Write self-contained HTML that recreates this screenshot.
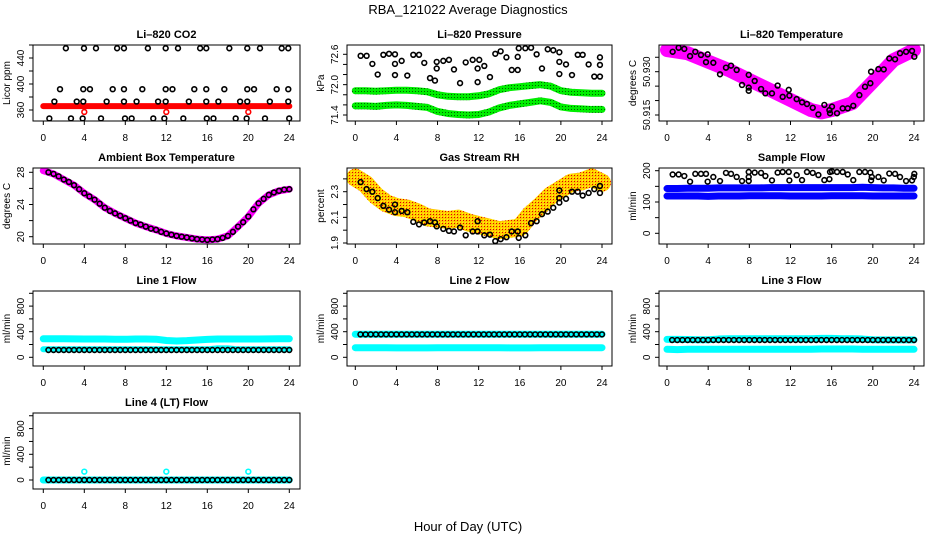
<!DOCTYPE html>
<html><head><meta charset="utf-8"><title>RBA_121022 Average Diagnostics</title>
<style>
html,body{margin:0;padding:0;background:#fff;}
svg{display:block;font-family:"Liberation Sans",Arial,sans-serif;}
</style></head>
<body>
<svg id="chart" width="936" height="540" viewBox="0 0 936 540" xmlns="http://www.w3.org/2000/svg">
<defs>
<pattern id="greenDots" width="3" height="3" patternUnits="userSpaceOnUse">
<rect width="3" height="3" fill="#00ee00"/><rect x="1" y="1" width="1" height="1" fill="#006000"/>
</pattern>
<pattern id="rhDots" width="3" height="3" patternUnits="userSpaceOnUse">
<rect width="3" height="3" fill="#ffc800"/><rect x="1" y="1" width="1" height="1" fill="#e00000"/><rect x="0" y="0" width="1" height="1" fill="#ffff00"/>
</pattern>
</defs>
<text x="468" y="14" text-anchor="middle" font-size="13">RBA_121022  Average Diagnostics</text>
<text x="468" y="531" text-anchor="middle" font-size="13">Hour of Day (UTC)</text>
</svg>
<script>
// ---------- categories ----------
const hours = [0,1,2,3,4,5,6,7,8,9,10,11,12,13,14,15,16,17,18,19,20,21,22,23,24];
const halfHours = [0.5,1,1.5,2,2.5,3,3.5,4,4.5,5,5.5,6,6.5,7,7.5,8,8.5,9,9.5,10,10.5,11,11.5,12,12.5,13,13.5,14,14.5,15,15.5,16,16.5,17,17.5,18,18.5,19,19.5,20,20.5,21,21.5,22,22.5,23,23.5,24];
const xTicks = [0,4,8,12,16,20,24];

// ---------- Li-820 CO2 ----------
const co2RedBand = [366,366,366,366,366,366,366,366,366,366,366,366,366,366,366,366,366,366,366,366,366,366,366,366,366];
const co2RedOutHours = [4,12,20];
const co2RedOutVals = [357,357,357];
const co2Hours = [2.2,3.97,5.14,7.2,7.87,10.2,11.94,13.14,15.3,15.9,18.15,19.9,21.14,23.26,23.9,
 1.63,3.9,4.55,6.77,7.87,9.66,11.94,12.6,14.73,15.9,17.66,19.9,20.56,22.77,23.9,
 1.08,3.26,3.9,6.18,7.87,9.1,11.2,11.94,14.2,15.9,17.08,19.2,19.9,22.1,23.9,
 0.59,2.7,3.84,5.63,7.97,8.62,10.73,11.81,13.66,15.95,16.6,18.77,19.84,21.63,23.99];
const co2Vals = [455,455,455,455,455,455,455,455,455,455,455,455,455,455,455,
 392,392,392,392,392,392,392,392,392,392,392,392,392,392,392,
 373,373,373,373,373,373,373,373,373,373,373,373,373,373,373,
 347,347,347,347,347,347,347,347,347,347,347,347,347,347,347];

// ---------- Li-820 Pressure ----------
const presUpper = [71.88,71.88,71.87,71.88,71.89,71.89,71.88,71.86,71.80,71.77,71.76,71.76,71.78,71.82,71.90,71.94,71.96,71.98,72.00,71.97,71.88,71.85,71.84,71.83,71.83];
const presLower = [71.58,71.58,71.57,71.59,71.60,71.59,71.57,71.55,71.47,71.43,71.41,71.40,71.41,71.46,71.54,71.59,71.62,71.65,71.68,71.65,71.56,71.53,71.52,71.51,71.51];
const presHours = [0.52,1.1,1.66,2.18,2.73,3.28,3.86,3.86,3.86,4.51,5.06,5.64,6.2,6.71,7.27,7.75,7.92,7.92,8.56,9.11,9.6,10.19,10.74,
 11.42,12.06,11.9,11.9,12.55,13.1,13.62,14.14,14.7,15.22,15.8,15.8,15.9,16.54,17.1,17.64,18.16,18.72,19.26,19.85,19.85,19.85,20.5,21.08,21.64,22.12,22.7,23.25,23.8,23.8,23.8];
const presVals = [72.57,72.57,72.41,72.20,72.59,72.61,72.60,72.41,72.19,72.47,72.18,72.59,72.59,72.43,72.13,72.08,72.45,72.32,72.47,72.49,72.30,72.03,72.44,
 72.49,72.49,72.32,72.05,72.37,72.15,72.61,72.66,72.54,72.29,72.29,72.55,72.72,72.72,72.73,72.60,72.32,72.70,72.68,72.64,72.45,72.21,72.40,72.19,72.59,72.59,72.40,72.16,72.16,72.39,72.54];

// ---------- Li-820 Temperature ----------
const tempBandHours = [0,2,4,6,8,10,12,14,15,16,18,20,22,24];
const tempBand = [50.9375,50.9364,50.9335,50.9306,50.9271,50.9237,50.9202,50.9167,50.9159,50.9167,50.9191,50.9265,50.9340,50.9375];
const tempHours = [0.55,1.13,1.68,2.24,2.75,3.3,3.79,3.95,4.5,5.15,5.73,6.22,6.77,7.29,7.94,7.94,7.94,8.52,9.14,9.56,10.2,10.75,11.24,11.83,11.89,12.6,13.12,13.6,14.16,14.71,15.29,15.78,15.84,16.03,16.52,17.07,17.56,18.1,18.69,19.24,19.76,19.83,20.54,21.06,21.6,22.16,22.64,23.23,23.81,24.03];
const tempVals = [50.9369,50.9383,50.9379,50.9354,50.9369,50.9358,50.9333,50.9360,50.9331,50.9291,50.9314,50.9321,50.9306,50.9254,50.9289,50.9245,50.9234,50.9268,50.9240,50.9225,50.9225,50.9252,50.9213,50.9237,50.9217,50.9205,50.9194,50.9188,50.9175,50.9152,50.9185,50.9167,50.9156,50.9179,50.9156,50.9173,50.9173,50.9182,50.9219,50.9248,50.9260,50.9300,50.9309,50.9308,50.9346,50.9343,50.9364,50.9369,50.9372,50.9352];

// ---------- Ambient Box Temperature ----------
const ambientLine = [28.2,27.8,27.1,26.4,25.4,24.6,23.6,22.9,22.3,21.7,21.25,20.85,20.4,20.1,19.9,19.7,19.6,19.7,20.1,21.25,22.5,24.15,25.2,25.7,25.9];
const ambientPts = [28.0,27.8,27.5,27.1,26.8,26.4,25.9,25.4,25.0,24.6,24.1,23.6,23.2,22.9,22.6,22.3,22.0,21.7,21.5,21.25,21.0,20.85,20.6,20.4,20.25,20.1,20.0,19.9,19.8,19.7,19.65,19.6,19.65,19.7,19.85,20.1,20.6,21.25,21.8,22.5,23.4,24.15,24.7,25.2,25.5,25.7,25.85,25.9];

// ---------- Gas Stream RH ----------
const rhBand = [2.41,2.36,2.27,2.21,2.18,2.17,2.14,2.10,2.09,2.08,2.09,2.06,2.04,2.02,2.00,2.01,2.02,2.12,2.19,2.27,2.32,2.37,2.38,2.41,2.37];
const rhHours = [0.52,1.1,1.66,2.18,2.73,3.28,3.86,3.86,4.51,5.06,5.64,6.2,6.71,7.27,7.75,7.92,8.56,9.11,9.6,10.19,10.74,
 11.42,11.9,11.9,12.55,13.1,13.62,14.14,14.7,15.22,15.8,15.9,16.54,17.1,17.64,18.16,18.72,19.26,19.85,19.85,19.85,20.5,21.08,21.64,22.12,22.7,23.25,23.8,23.8];
const rhVals = [2.375,2.32,2.30,2.25,2.19,2.16,2.20,2.14,2.15,2.14,2.065,2.045,2.06,2.07,2.06,2.03,2.01,1.995,1.99,2.02,1.96,
 1.99,2.07,1.99,1.96,1.965,1.915,1.93,1.945,1.99,1.99,1.94,1.96,2.055,2.07,2.125,2.145,2.175,2.215,2.25,2.31,2.245,2.30,2.30,2.27,2.29,2.32,2.345,2.29];

// ---------- Sample Flow ----------
const sampleUpper = [143,143,144,144,144,145,145,145,145,145,146,146,146,146,146,146,146,146,146,147,146,145,145,144,144];
const sampleLower = [119,119,119,119,118,119,119,119,120,120,120,120,119,119,119,119,120,120,120,120,119,119,119,119,119];
const sampleHours = [0.55,1.13,1.68,2.24,2.75,3.3,3.79,3.95,4.5,5.15,5.73,6.22,6.77,7.29,7.94,7.94,7.94,8.52,9.14,9.56,10.2,10.75,11.24,11.83,11.89,12.6,13.12,13.6,14.16,14.71,15.29,15.78,15.84,16.03,16.52,17.07,17.56,18.1,18.69,19.24,19.76,19.83,19.9,20.54,21.06,21.6,22.16,22.64,23.23,23.81,24.03,23.98];
const sampleVals = [188,188,183,165,190,190,190,165,180,167,193,190,180,167,167,180,196,194,193,183,169,194,196,196,169,186,170,196,193,186,170,173,196,198,196,196,188,170,196,196,194,169,180,180,169,191,190,180,167,169,190,180];

// ---------- Line flows ----------
const l1Upper = [290,290,290,288,285,285,285,283,282,285,285,283,262,255,260,270,280,285,285,285,285,285,288,290,290];
const l1Lower = [125,125,125,125,125,125,125,125,125,125,125,125,125,125,125,125,125,140,140,125,125,125,125,125,125];
const l1Black = [114,114,114,114,114,114,114,114,114,114,114,114,114,114,114,114,114,114,114,114,114,114,114,114,114,114,114,114,114,114,114,114,114,114,114,114,114,114,114,114,114,114,114,114,114,114,114,114];
const l2Upper = [360,360,360,360,360,360,360,360,360,360,360,360,360,360,360,360,360,360,360,360,360,360,360,360,360];
const l2Lower = [150,150,150,150,148,148,148,148,150,150,150,150,150,150,150,148,148,148,150,150,150,150,150,150,150];
const l2Black = [358,358,358,358,358,358,358,358,358,358,358,358,358,358,358,358,358,358,358,358,358,358,358,358,358,358,358,358,358,358,358,358,358,358,358,358,358,358,358,358,358,358,358,358,358,358,358,358];
const l3Upper = [280,280,278,275,275,285,290,290,290,290,290,290,290,290,290,295,295,290,290,285,275,272,272,272,272];
const l3Lower = [125,120,125,125,125,125,125,125,125,125,125,125,125,125,125,130,130,130,130,125,125,125,125,125,125];
const l3Black = [270,270,270,270,270,270,270,270,270,270,270,270,270,270,270,270,270,270,270,270,270,270,270,270,270,270,270,270,270,270,270,270,270,270,270,270,270,270,270,270,270,270,270,270,270,270,270,270];
const l4Cyan = [0,0,0,0,0,0,0,0,0,0,0,0,0,0,0,0,0,0,0,0,0,0,0,0,0];
const l4OutHours = [4,12,20];
const l4OutVals = [130,130,130];
const l4Black = [0,0,0,0,0,0,0,0,0,0,0,0,0,0,0,0,0,0,0,0,0,0,0,0,0,0,0,0,0,0,0,0,0,0,0,0,0,0,0,0,0,0,0,0,0,0,0,0];

const flowTicks = [0,200,400,600,800,1000];
const flowLabels = [0,400,800];

// ---------- drawing ----------
const NS = 'http://www.w3.org/2000/svg';
const svg = document.getElementById('chart');
const defs = svg.querySelector('defs');
let clipN = 0;
function mk(tag, attrs, parent) {
  const e = document.createElementNS(NS, tag);
  for (const k in attrs) e.setAttribute(k, attrs[k]);
  parent.appendChild(e);
  return e;
}
function fmt(v, d) { return d ? v.toFixed(d) : String(v); }

function panel(o) {
  const g = mk('g', {}, svg);
  
  
  const [l, t, r, b] = o.box;
  const xs = h => o.x0 + h * (o.x24 - o.x0) / 24;
  const ys = v => o.p0 + (v - o.v0) * (o.p1 - o.p0) / (o.v1 - o.v0);
  const cid = 'clip' + (clipN++);
  const cp = mk('clipPath', {id: cid}, defs);
  mk('rect', {x: l, y: t, width: r - l, height: b - t}, cp);
  const title = mk('text', {x: (l + r) / 2, y: t - 7, 'text-anchor': 'middle', 'font-size': 11, 'font-weight': 'bold'}, g);
  title.textContent = o.title;
  
  
  const xa = mk('g', {stroke: '#000', 'stroke-width': 1}, g);
  
  
  mk('line', {x1: xs(xTicks[0]), x2: xs(xTicks[xTicks.length - 1]), y1: b, y2: b}, xa);
  xTicks.forEach(h => {
    mk('line', {x1: xs(h), x2: xs(h), y1: b, y2: b + 4}, xa);
    const tx = mk('text', {x: xs(h), y: b + 20, 'text-anchor': 'middle', 'font-size': 10, stroke: 'none', fill: '#000'}, xa);
    tx.textContent = h;
    
    
  });
  const ya = mk('g', {stroke: '#000', 'stroke-width': 1}, g);
  
  
  mk('line', {x1: l, x2: l, y1: ys(o.yticks[0]), y2: ys(o.yticks[o.yticks.length - 1])}, ya);
  o.yticks.forEach(v => mk('line', {x1: l - 4, x2: l, y1: ys(v), y2: ys(v)}, ya));
  o.ylabels.forEach(v => {
    const y = ys(v);
    const tx = mk('text', {x: l - 9, y: y, 'text-anchor': 'middle', 'font-size': 10, stroke: 'none', fill: '#000', transform: `rotate(-90 ${l - 9} ${y})`}, ya);
    tx.textContent = fmt(v, o.dec);
    
    
  });
  const yt = mk('text', {x: l - 23, y: (t + b) / 2, 'text-anchor': 'middle', 'font-size': 10, transform: `rotate(-90 ${l - 23} ${(t + b) / 2})`}, g);
  yt.textContent = o.ylab;
  
  
  const plot = mk('g', {'clip-path': `url(#${cid})`}, g);
  
  
  const box = mk('rect', {x: l, y: t, width: r - l, height: b - t, fill: 'none', stroke: '#000', 'stroke-width': 1}, g);
  
  
  return {
    band(hs, vs, color, w, name) {
      const p = mk('polyline', {points: hs.map((h, i) => xs(h) + ',' + ys(vs[i])).join(' '), fill: 'none', stroke: color, 'stroke-width': w, 'stroke-linejoin': 'round', 'stroke-linecap': 'round'}, plot);
      
      
    },
    points(hs, vs, color, name, rad) {
      const pg = mk('g', {fill: 'none', stroke: color, 'stroke-width': 1.6}, plot);
      
      
      hs.forEach((h, i) => {
        const c = mk('circle', {cx: xs(h), cy: ys(vs[i]), r: rad || 2.4}, pg);
        
        
      });
    }
  };
}

const C1 = {x0: 43.3, x24: 289.3}, C2 = {x0: 355.3, x24: 602}, C3 = {x0: 667, x24: 914};

let p = panel(Object.assign({name: 'panel-co2', box: [33, 45, 300, 121], v0: 360, p0: 110, v1: 440, p1: 58,
  yticks: [360, 380, 400, 420, 440, 460], ylabels: [360, 400, 440], title: 'Li\u2013820 CO2', ylab: 'Licor ppm'}, C1));
p.band(hours, co2RedBand, '#ff0000', 6, 'co2-red-band');
p.points(co2RedOutHours, co2RedOutVals, '#ff0000', 'co2-red-outliers');
p.points(co2Hours, co2Vals, '#000', 'co2-black-points');

p = panel(Object.assign({name: 'panel-pressure', box: [347, 45, 612, 121], v0: 72.6, p0: 54.3, v1: 71.4, p1: 115, dec: 1,
  yticks: [71.4, 71.6, 71.8, 72.0, 72.2, 72.4, 72.6], ylabels: [71.4, 72.0, 72.6], title: 'Li\u2013820 Pressure', ylab: 'kPa'}, C2));
p.band(hours, presUpper, 'url(#greenDots)', 7, 'pressure-upper-band');
p.band(hours, presLower, 'url(#greenDots)', 7, 'pressure-lower-band');
p.points(presHours, presVals, '#000', 'pressure-black-points');

p = panel(Object.assign({name: 'panel-li820-temperature', box: [659, 45, 924, 121], v0: 50.930, p0: 71.7, v1: 50.915, p1: 115, dec: 3,
  yticks: [50.915, 50.920, 50.925, 50.930, 50.935], ylabels: [50.915, 50.930], title: 'Li\u2013820 Temperature', ylab: 'degrees C'}, C3));
p.band(tempBandHours, tempBand, '#ff00ff', 14, 'temperature-magenta-band');
p.points(tempHours, tempVals, '#000', 'temperature-black-points');

p = panel(Object.assign({name: 'panel-ambient-box-temperature', box: [33, 168, 300, 244], v0: 20, p0: 236.7, v1: 28, p1: 172.3,
  yticks: [20, 22, 24, 26, 28], ylabels: [20, 24, 28], title: 'Ambient Box Temperature', ylab: 'degrees C'}, C1));
p.band(hours, ambientLine, '#ff00ff', 7, 'ambient-magenta-line');
p.points(halfHours, ambientPts, '#000', 'ambient-black-points');

p = panel(Object.assign({name: 'panel-gas-stream-rh', box: [347, 168, 612, 244], v0: 1.9, p0: 243, v1: 2.3, p1: 191.7, dec: 1,
  yticks: [1.9, 2.0, 2.1, 2.2, 2.3, 2.4], ylabels: [1.9, 2.1, 2.3], title: 'Gas Stream RH', ylab: 'percent'}, C2));
p.band(hours, rhBand, 'url(#rhDots)', 18, 'rh-orange-band');
p.points(rhHours, rhVals, '#000', 'rh-black-points');

p = panel(Object.assign({name: 'panel-sample-flow', box: [659, 168, 924, 244], v0: 0, p0: 233.3, v1: 200, p1: 170.7,
  yticks: [0, 50, 100, 150, 200], ylabels: [0, 100, 200], title: 'Sample Flow', ylab: 'ml/min'}, C3));
p.band(hours, sampleUpper, '#0000ff', 7, 'sample-upper-band');
p.band(hours, sampleLower, '#0000ff', 7, 'sample-lower-band');
p.points(sampleHours, sampleVals, '#000', 'sample-black-points');

p = panel(Object.assign({name: 'panel-line1-flow', box: [33, 291, 300, 366], v0: 0, p0: 357.3, v1: 400, p1: 331.7,
  yticks: flowTicks, ylabels: flowLabels, title: 'Line 1 Flow', ylab: 'ml/min'}, C1));
p.band(hours, l1Upper, '#00ffff', 7, 'line1-cyan-upper');
p.band(hours, l1Lower, '#00ffff', 6, 'line1-cyan-lower');
p.points(halfHours, l1Black, '#000', 'line1-black-points');

p = panel(Object.assign({name: 'panel-line2-flow', box: [347, 291, 612, 366], v0: 0, p0: 357.3, v1: 400, p1: 331.7,
  yticks: flowTicks, ylabels: flowLabels, title: 'Line 2 Flow', ylab: 'ml/min'}, C2));
p.band(hours, l2Upper, '#00ffff', 7, 'line2-cyan-upper');
p.band(hours, l2Lower, '#00ffff', 7, 'line2-cyan-lower');
p.points(halfHours, l2Black, '#000', 'line2-black-points');

p = panel(Object.assign({name: 'panel-line3-flow', box: [659, 291, 924, 366], v0: 0, p0: 357.3, v1: 400, p1: 331.7,
  yticks: flowTicks, ylabels: flowLabels, title: 'Line 3 Flow', ylab: 'ml/min'}, C3));
p.band(hours, l3Upper, '#00ffff', 7, 'line3-cyan-upper');
p.band(hours, l3Lower, '#00ffff', 7, 'line3-cyan-lower');
p.points(halfHours, l3Black, '#000', 'line3-black-points');

p = panel(Object.assign({name: 'panel-line4-lt-flow', box: [33, 413, 300, 489], v0: 0, p0: 480, v1: 400, p1: 454.3,
  yticks: flowTicks, ylabels: flowLabels, title: 'Line 4 (LT) Flow', ylab: 'ml/min'}, C1));
p.band(hours, l4Cyan, '#00ffff', 7, 'line4-cyan-line');
p.points(l4OutHours, l4OutVals, '#00ffff', 'line4-cyan-outliers');
p.points(halfHours, l4Black, '#000', 'line4-black-points');
</script>
</body></html>
